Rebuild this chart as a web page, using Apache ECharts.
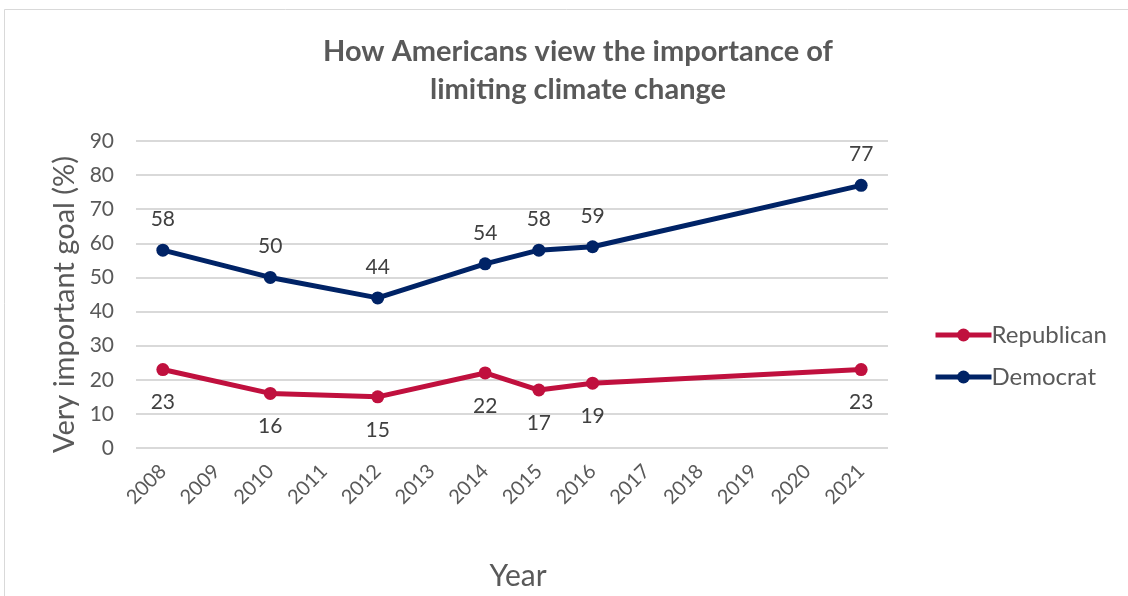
<!DOCTYPE html>
<html>
<head>
<meta charset="utf-8">
<script src="https://cdn.jsdelivr.net/npm/echarts@6/dist/echarts.min.js"></script>
<style>
  html, body { margin: 0; padding: 0; background: #fff; }
  #chart { width: 1128px; height: 596px; }
</style>
</head>
<body>
<div id="chart"></div>
<script>
// Survey years shown on the horizontal axis
const years = ['2008','2009','2010','2011','2012','2013','2014','2015','2016','2017','2018','2019','2020','2021'];
// Share saying limiting climate change is a very important goal (%), null = no survey that year
const republican = [23, null, 16, null, 15, null, 22, 17, 19, null, null, null, null, 23];
const democrat   = [58, null, 50, null, 44, null, 54, 58, 59, null, null, null, null, 77];
const yTicks = { min: 0, max: 90, interval: 10 };

const FONT = 'Lato, "Open Sans", sans-serif';
const TEXT = '#595959';

const chart = echarts.init(document.getElementById('chart'), null, { renderer: 'canvas' });

function lineSeries(name, data, color, labelPos, dist) {
  return {
    name: name,
    type: 'line',
    data: data,
    connectNulls: true,
    symbol: 'circle',
    symbolSize: 13,
    lineStyle: { width: 5, color: color },
    itemStyle: { color: color },
    label: {
      show: true,
      position: labelPos,
      distance: dist,
      color: '#404040',
      fontFamily: FONT,
      fontSize: 21
    },
    emphasis: { disabled: true },
    animation: false
  };
}

chart.setOption({
  backgroundColor: '#fff',
  animation: false,
  graphic: [{
    type: 'rect',
    shape: { x: 4.5, y: 9.5, width: 1140, height: 600 },
    style: { fill: 'none', stroke: '#d9d9d9', lineWidth: 1 },
    silent: true
  }],
  title: {
    text: 'How Americans view the importance of\nlimiting climate change',
    left: 573,
    top: 28,
    textAlign: 'center',
    textStyle: {
      fontFamily: FONT,
      fontWeight: 'bold',
      fontSize: 29,
      lineHeight: 38,
      color: TEXT
    }
  },
  legend: {
    orient: 'vertical',
    left: 928,
    top: 318,
    itemGap: 18,
    itemWidth: 56,
    itemHeight: 16,
    lineStyle: { width: 5 },
    textStyle: { fontFamily: FONT, fontSize: 24, color: TEXT, padding: [0, 0, 0, -5] },
    data: ['Republican', 'Democrat']
  },
  grid: { left: 136, right: 240, top: 141, bottom: 147 },
  xAxis: {
    type: 'category',
    data: years,
    boundaryGap: true,
    name: 'Year',
    nameLocation: 'middle',
    nameGap: 113,
    nameTextStyle: { fontFamily: FONT, fontSize: 30, color: TEXT, padding: [0, 0, 0, 12] },
    axisLine: { show: false },
    axisTick: { show: false },
    axisLabel: {
      rotate: 45,
      interval: 0,
      margin: 20,
      fontFamily: FONT,
      fontSize: 20,
      color: TEXT
    }
  },
  yAxis: {
    type: 'value',
    min: yTicks.min,
    max: yTicks.max,
    interval: yTicks.interval,
    name: 'Very important goal (%)',
    nameLocation: 'middle',
    nameGap: 56,
    nameTextStyle: { fontFamily: FONT, fontSize: 29, color: TEXT, padding: [0, 20, 0, 0] },
    axisLine: { show: false },
    axisTick: { show: false },
    axisLabel: { margin: 22, fontFamily: FONT, fontSize: 21, color: TEXT },
    splitLine: { lineStyle: { color: '#d9d9d9', width: 2 } }
  },
  series: [
    lineSeries('Republican', republican, '#C0103E', 'bottom', 16),
    lineSeries('Democrat', democrat, '#002366', 'top', 14)
  ]
});
</script>
</body>
</html>
